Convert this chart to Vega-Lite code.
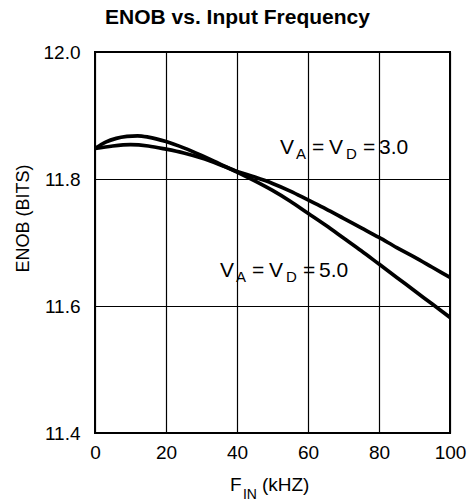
{
  "$schema": "https://vega.github.io/schema/vega-lite/v6.json",
  "width": 355,
  "height": 381,
  "autosize": {"type": "none"},
  "padding": {"left": 95, "top": 52, "right": 19, "bottom": 70},
  "background": "white",
  "title": {
    "text": "ENOB vs. Input Frequency",
    "font": "Liberation Sans",
    "fontSize": 21,
    "fontWeight": "bold",
    "color": "black",
    "anchor": "middle",
    "frame": "group",
    "dx": -35,
    "baseline": "alphabetic",
    "offset": -2
  },
  "config": {
    "view": {"stroke": "black", "strokeWidth": 2},
    "font": "Liberation Sans",
    "axis": {
      "labelFont": "Liberation Sans",
      "labelFontSize": 19,
      "labelColor": "black",
      "labelFlush": false,
      "titleFont": "Liberation Sans",
      "titleFontSize": 18,
      "titleFontWeight": "normal",
      "titleColor": "black",
      "ticks": false,
      "domain": false,
      "grid": true,
      "gridColor": "black",
      "gridWidth": 1.2,
      "gridOpacity": 1
    }
  },
  "datasets": {
    "curves": [
      {"f": 0, "enob": 11.848, "supply": "5.0"},
      {"f": 3, "enob": 11.858, "supply": "5.0"},
      {"f": 6, "enob": 11.864, "supply": "5.0"},
      {"f": 9, "enob": 11.867, "supply": "5.0"},
      {"f": 12, "enob": 11.868, "supply": "5.0"},
      {"f": 15, "enob": 11.866, "supply": "5.0"},
      {"f": 20, "enob": 11.859, "supply": "5.0"},
      {"f": 25, "enob": 11.849, "supply": "5.0"},
      {"f": 30, "enob": 11.837, "supply": "5.0"},
      {"f": 35, "enob": 11.824, "supply": "5.0"},
      {"f": 40, "enob": 11.811, "supply": "5.0"},
      {"f": 45, "enob": 11.797, "supply": "5.0"},
      {"f": 50, "enob": 11.782, "supply": "5.0"},
      {"f": 55, "enob": 11.765, "supply": "5.0"},
      {"f": 60, "enob": 11.746, "supply": "5.0"},
      {"f": 65, "enob": 11.727, "supply": "5.0"},
      {"f": 70, "enob": 11.707, "supply": "5.0"},
      {"f": 75, "enob": 11.687, "supply": "5.0"},
      {"f": 80, "enob": 11.666, "supply": "5.0"},
      {"f": 85, "enob": 11.645, "supply": "5.0"},
      {"f": 90, "enob": 11.624, "supply": "5.0"},
      {"f": 95, "enob": 11.603, "supply": "5.0"},
      {"f": 100, "enob": 11.582, "supply": "5.0"},
      {"f": 0, "enob": 11.848, "supply": "3.0"},
      {"f": 5, "enob": 11.852, "supply": "3.0"},
      {"f": 10, "enob": 11.854, "supply": "3.0"},
      {"f": 15, "enob": 11.852, "supply": "3.0"},
      {"f": 20, "enob": 11.847, "supply": "3.0"},
      {"f": 25, "enob": 11.841, "supply": "3.0"},
      {"f": 30, "enob": 11.833, "supply": "3.0"},
      {"f": 35, "enob": 11.823, "supply": "3.0"},
      {"f": 40, "enob": 11.812, "supply": "3.0"},
      {"f": 45, "enob": 11.803, "supply": "3.0"},
      {"f": 50, "enob": 11.793, "supply": "3.0"},
      {"f": 55, "enob": 11.781, "supply": "3.0"},
      {"f": 60, "enob": 11.767, "supply": "3.0"},
      {"f": 65, "enob": 11.753, "supply": "3.0"},
      {"f": 70, "enob": 11.738, "supply": "3.0"},
      {"f": 75, "enob": 11.723, "supply": "3.0"},
      {"f": 80, "enob": 11.708, "supply": "3.0"},
      {"f": 85, "enob": 11.692, "supply": "3.0"},
      {"f": 90, "enob": 11.677, "supply": "3.0"},
      {"f": 95, "enob": 11.661, "supply": "3.0"},
      {"f": 100, "enob": 11.645, "supply": "3.0"}
    ],
    "labels": [
      {"f": 52.1, "enob": 11.84, "v": "3.0"},
      {"f": 35.2, "enob": 11.646, "v": "5.0"}
    ],
    "xtitle": [
      {"f": 38.0, "enob": 11.4, "main": "F", "sub": "IN", "unit": "(kHZ)"}
    ]
  },
  "encoding": {
    "x": {
      "field": "f",
      "type": "quantitative",
      "scale": {"domain": [0, 100], "nice": false, "zero": false},
      "axis": {"values": [0, 20, 40, 60, 80, 100], "title": null, "labelPadding": 10}
    },
    "y": {
      "field": "enob",
      "type": "quantitative",
      "scale": {"domain": [11.4, 12.0], "nice": false, "zero": false},
      "axis": {
        "values": [11.4, 11.6, 11.8, 12.0],
        "format": ".1f",
        "title": "ENOB (BITS)",
        "labelPadding": 15,
        "titleAngle": -90,
        "titleX": -72,
        "titleY": 166,
        "titleBaseline": "middle",
        "titleAlign": "center"
      }
    }
  },
  "layer": [
    {
      "data": {"name": "curves"},
      "mark": {"type": "line", "color": "black", "strokeWidth": 3.7, "interpolate": "monotone", "clip": true},
      "encoding": {"detail": {"field": "supply"}}
    },
    {
      "data": {"name": "labels"},
      "mark": {"type": "text", "align": "left", "baseline": "alphabetic", "fontSize": 21, "color": "black", "text": "V"}
    },
    {
      "data": {"name": "labels"},
      "mark": {"type": "text", "align": "left", "baseline": "alphabetic", "fontSize": 15, "color": "black", "text": "A", "dx": 16, "dy": 5}
    },
    {
      "data": {"name": "labels"},
      "mark": {"type": "text", "align": "left", "baseline": "alphabetic", "fontSize": 21, "color": "black", "text": "=", "dx": 32}
    },
    {
      "data": {"name": "labels"},
      "mark": {"type": "text", "align": "left", "baseline": "alphabetic", "fontSize": 21, "color": "black", "text": "V", "dx": 49}
    },
    {
      "data": {"name": "labels"},
      "mark": {"type": "text", "align": "left", "baseline": "alphabetic", "fontSize": 15, "color": "black", "text": "D", "dx": 66, "dy": 5}
    },
    {
      "data": {"name": "labels"},
      "mark": {"type": "text", "align": "left", "baseline": "alphabetic", "fontSize": 21, "color": "black", "text": "=", "dx": 83}
    },
    {
      "data": {"name": "labels"},
      "mark": {"type": "text", "align": "left", "baseline": "alphabetic", "fontSize": 21, "color": "black", "dx": 99},
      "encoding": {"text": {"field": "v"}}
    },
    {
      "data": {"name": "xtitle"},
      "mark": {"type": "text", "align": "left", "baseline": "alphabetic", "fontSize": 19, "color": "black", "dy": 58},
      "encoding": {"text": {"field": "main"}}
    },
    {
      "data": {"name": "xtitle"},
      "mark": {"type": "text", "align": "left", "baseline": "alphabetic", "fontSize": 14, "color": "black", "dx": 13, "dy": 66},
      "encoding": {"text": {"field": "sub"}}
    },
    {
      "data": {"name": "xtitle"},
      "mark": {"type": "text", "align": "left", "baseline": "alphabetic", "fontSize": 19, "color": "black", "dx": 32, "dy": 58},
      "encoding": {"text": {"field": "unit"}}
    }
  ]
}
